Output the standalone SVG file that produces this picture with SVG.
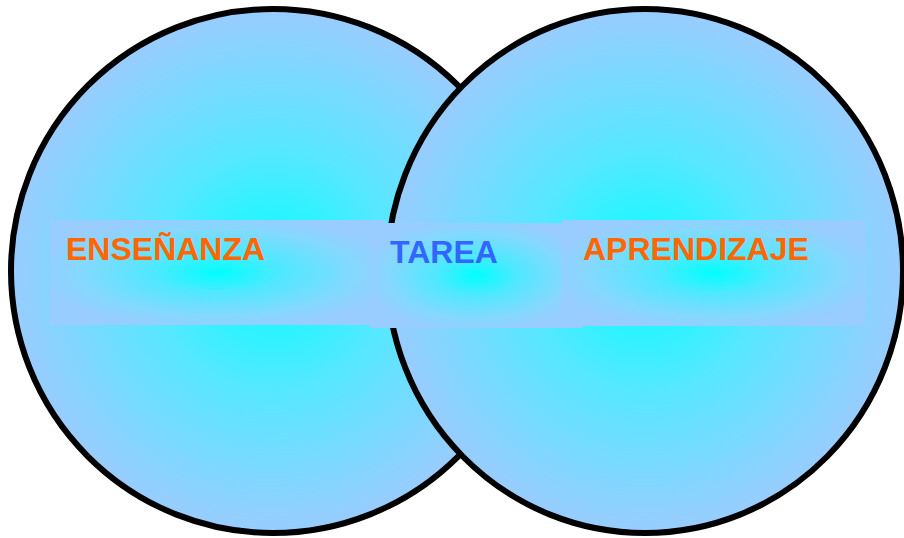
<svg xmlns="http://www.w3.org/2000/svg" width="904" height="538" viewBox="0 0 904 538">
  <defs>
    <!-- cyan core fading to pale blue rim -->
    <radialGradient id="glowCircle" cx="0.5" cy="0.5" r="0.5">
      <stop offset="0" stop-color="#00FFFF"/>
      <stop offset="0.45" stop-color="#55E8FF"/>
      <stop offset="1" stop-color="#99CCFF"/>
    </radialGradient>
    <radialGradient id="glowBox" cx="0.5" cy="0.5" r="0.55">
      <stop offset="0" stop-color="#00FFFF"/>
      <stop offset="0.35" stop-color="#50E8FF"/>
      <stop offset="0.75" stop-color="#85D8FF"/>
      <stop offset="1" stop-color="#99CCFF"/>
    </radialGradient>
  </defs>
  <style>
    .ring { fill: url(#glowCircle); stroke: #000000; stroke-width: 6; }
    .box { fill: url(#glowBox); stroke: none; }
    .label { font-family: "Liberation Sans", Arial, sans-serif; font-weight: bold; font-size: 32px; }
    .orange { fill: #FF6600; }
    .blue { fill: #3366FF; }
  </style>

  <g id="circle-ensenanza">
    <ellipse class="ring" cx="273" cy="271" rx="262" ry="262"/>
  </g>
  <g id="circle-aprendizaje">
    <ellipse class="ring" cx="645" cy="271" rx="258" ry="262"/>
  </g>

  <g id="box-ensenanza">
    <rect class="box" x="50" y="220" width="335" height="105"/>
    <text class="label orange" x="66" y="260">ENSEÑANZA</text>
  </g>
  <g id="box-tarea">
    <rect class="box" x="370" y="223" width="213" height="105"/>
    <text class="label blue" x="390" y="263">TAREA</text>
  </g>
  <g id="box-aprendizaje">
    <rect class="box" x="562" y="220" width="304" height="106"/>
    <text class="label orange" x="583" y="260">APRENDIZAJE</text>
  </g>
</svg>
